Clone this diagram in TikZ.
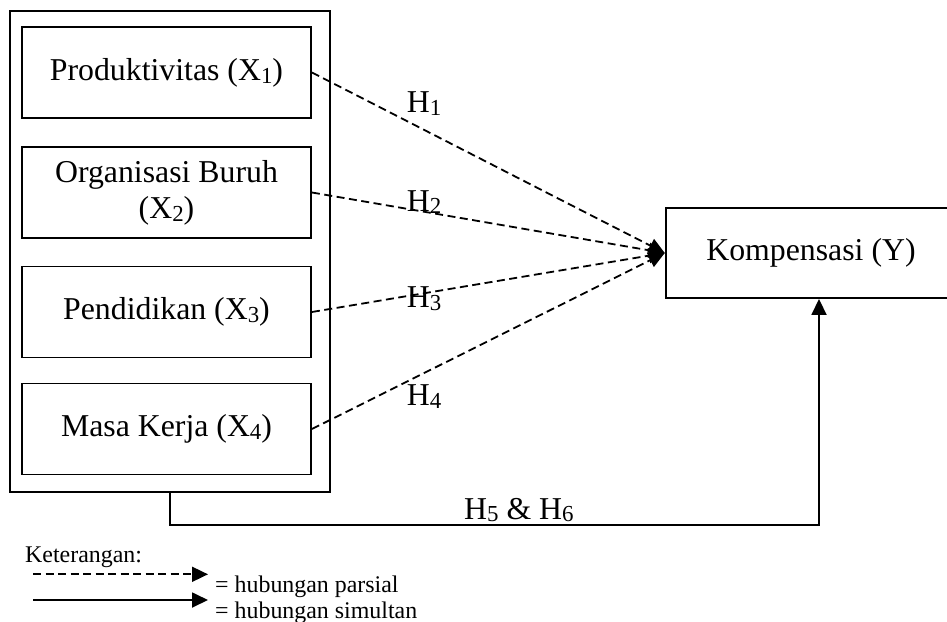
\documentclass[tikz,border=0pt]{standalone}
\usepackage{fontspec}
\setmainfont{Liberation Serif}
\usepackage{graphicx}
\usetikzlibrary{arrows.meta}
\newcommand{\lsub}[1]{\raisebox{-0.09em}{\scalebox{0.72}{#1}}}
\tikzset{
  mainfont/.style={font=\fontsize{31.8}{36}\selectfont},
  legfont/.style={font=\fontsize{23.9}{27}\selectfont},
  boxline/.style={draw, line width=1.9pt, inner sep=0pt},
  inbox/.style={boxline, mainfont, minimum width=289pt, minimum height=91pt, align=center},
  dashline/.style={line width=1.8pt, dash pattern=on 8pt off 4.5pt},
  tip/.style={-{Triangle[length=16pt,width=15pt]}},
  solidline/.style={line width=1.8pt},
}
\begin{document}
\begin{tikzpicture}[x=1pt,y=-1pt]
\useasboundingbox (0,0) rectangle (947,621);
% outer group box
\node[boxline, minimum width=320pt, minimum height=481pt] (outer) at (170,251.5) {};
% inner boxes
\node[inbox] (x1) at (166.5,72.5) {Produktivitas (X\lsub{1})};
\node[inbox] (x2) at (166.5,192.5) {Organisasi Buruh\\(X\lsub{2})};
\node[inbox] (x3) at (166.5,312) {Pendidikan (X\lsub{3})};
\node[inbox] (x4) at (166.5,429) {Masa Kerja (X\lsub{4})};
% dependent box
\node[boxline, mainfont, minimum width=290.6pt, minimum height=90pt] (ky) at (811,253) {Kompensasi (Y)};
% partial relations
\draw[dashline, tip] (x1.east) -- (ky.west);
\draw[dashline, tip] (x2.east) -- (ky.west);
\draw[dashline, tip] (x3.east) -- (ky.west);
\draw[dashline, tip] (x4.east) -- (ky.west);
\node[mainfont, anchor=base west, inner sep=0pt] (h1) at (406.7,112.7) {H\lsub{1}};
\node[mainfont, anchor=base west, inner sep=0pt] (h2) at (406.7,211) {H\lsub{2}};
\node[mainfont, anchor=base west, inner sep=0pt] (h3) at (406.7,307.7) {H\lsub{3}};
\node[mainfont, anchor=base west, inner sep=0pt] (h4) at (406.7,405.7) {H\lsub{4}};
% simultaneous relation
\coordinate (c) at (819,525);
\draw[solidline, tip] (outer.south) |- (c) -- (c |- ky.south);
\node[mainfont, anchor=base west, inner sep=0pt] (h56) at (464,519) {H\lsub{5} \& H\lsub{6}};
% legend
\node[legfont, anchor=base west, inner sep=0pt] (ket) at (25,562.7) {Keterangan:};
\coordinate (l1s) at (33,574.3);
\coordinate (l1e) at (208,574.3);
\coordinate (l2s) at (33,600);
\coordinate (l2e) at (208,600);
\draw[dashline, tip] (l1s) -- (l1e);
\draw[solidline, tip] (l2s) -- (l2e);
\node[legfont, anchor=base west, inner sep=0pt] (lp) at (215,592.7) {= hubungan parsial};
\node[legfont, anchor=base west, inner sep=0pt] (ls) at (215,618) {= hubungan simultan};
\end{tikzpicture}
\end{document}
